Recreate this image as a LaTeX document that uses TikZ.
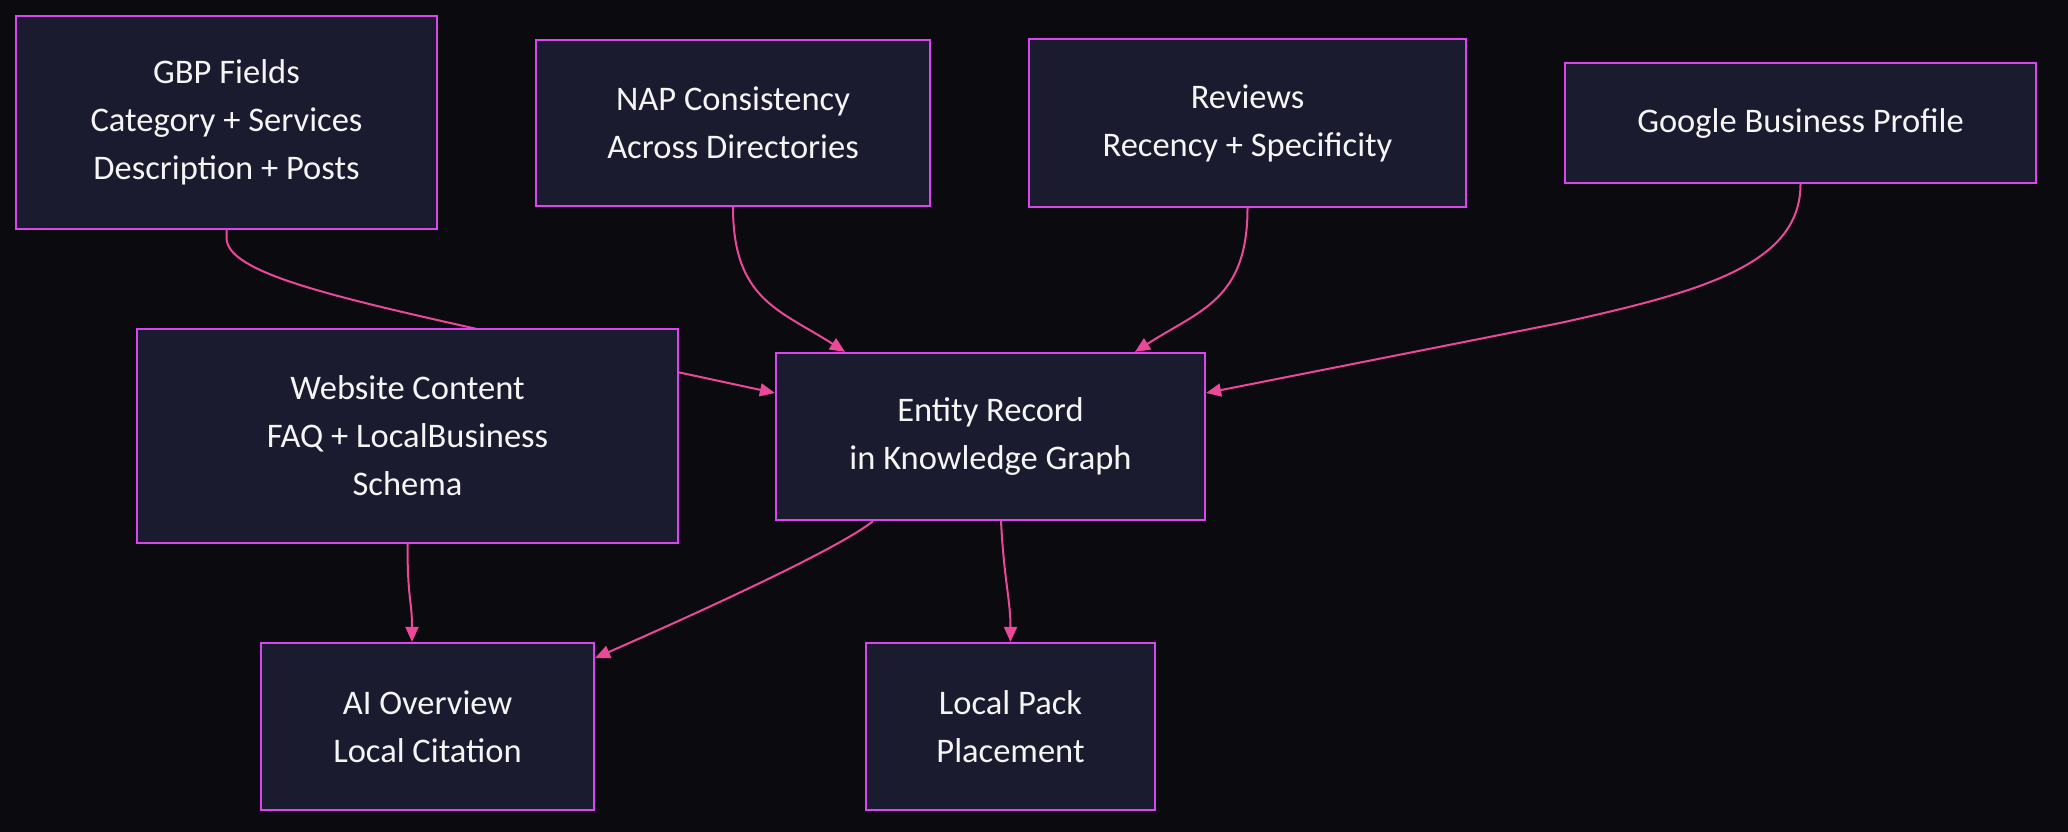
\documentclass[tikz,border=0pt]{standalone}
\usepackage{fontspec}
\setmainfont{Carlito}
\usetikzlibrary{arrows.meta}
\pgfdeclarelayer{bglayer}
\pgfdeclarelayer{edges}
\pgfsetlayers{bglayer,edges,main}
\definecolor{bgc}{HTML}{0A0A0F}
\definecolor{boxfill}{HTML}{1B1B2F}
\definecolor{boxline}{HTML}{D946EF}
\definecolor{edgec}{HTML}{EC4899}
\definecolor{txt}{HTML}{F5F5F5}
\tikzset{
  box/.style={draw=boxline, fill=boxfill, line width=2.2pt, rectangle, inner sep=0pt,
    align=center, text=txt, font=\fontsize{34.5}{48}\selectfont},
  conn/.style={draw=edgec, line width=2pt, -{Triangle[length=15pt,width=13pt]}}
}
\begin{document}
\begin{tikzpicture}[x=1pt,y=-1pt]
\begin{pgfonlayer}{bglayer}
\fill[bgc] (0,0) rectangle (2068,832);
\end{pgfonlayer}
\useasboundingbox (0,0) rectangle (2068,832);

\node[box, minimum width=421pt, minimum height=213pt] (gbp) at (226.5,122.5) {GBP Fields\\Category + Services\\Description + Posts};
\node[box, minimum width=394pt, minimum height=166pt] (nap) at (733,123) {NAP Consistency\\Across Directories};
\node[box, minimum width=437pt, minimum height=168pt] (rev) at (1247.5,123) {Reviews\\Recency + Specificity};
\node[box, minimum width=471pt, minimum height=120pt] (gpro) at (1800.5,123) {Google Business Profile};
\node[box, minimum width=541pt, minimum height=214pt] (web) at (407.5,436) {Website Content\\FAQ + LocalBusiness\\Schema};
\node[box, minimum width=429pt, minimum height=167pt] (ent) at (990.5,436.5) {Entity Record\\in Knowledge Graph};
\node[box, minimum width=333pt, minimum height=167pt] (ai) at (427.5,726.5) {AI Overview\\Local Citation};
\node[box, minimum width=289pt, minimum height=167pt] (lp) at (1010.5,726.5) {Local Pack\\Placement};

\begin{pgfonlayer}{edges}
\draw[conn] (gbp.south) -- (226.5,238) .. controls (226.5,272) and (330,296) .. (477,329) -- ([yshift=43.5pt]ent.west);
\draw[conn] (nap.south) .. controls (733,300) and (780,310) .. ([xshift=-145.5pt]ent.north);
\draw[conn] (rev.south) .. controls (1247.5,300) and (1200,310) .. ([xshift=144.5pt]ent.north);
\draw[conn] (gpro.south) .. controls (1800.5,265) and (1700,292) .. (1560,323) -- ([yshift=43.5pt]ent.east);
\draw[conn] (web.south) .. controls (407.5,600) and (412,600) .. ([xshift=-15.5pt]ai.north);
\draw[conn] ([xshift=-117.5pt]ent.south) .. controls (840,548) and (700,612) .. ([yshift=68.5pt]ai.east);
\draw[conn] ([xshift=10.5pt]ent.south) .. controls (1004,580) and (1010.5,600) .. (lp.north);
\end{pgfonlayer}
\end{tikzpicture}
\end{document}
